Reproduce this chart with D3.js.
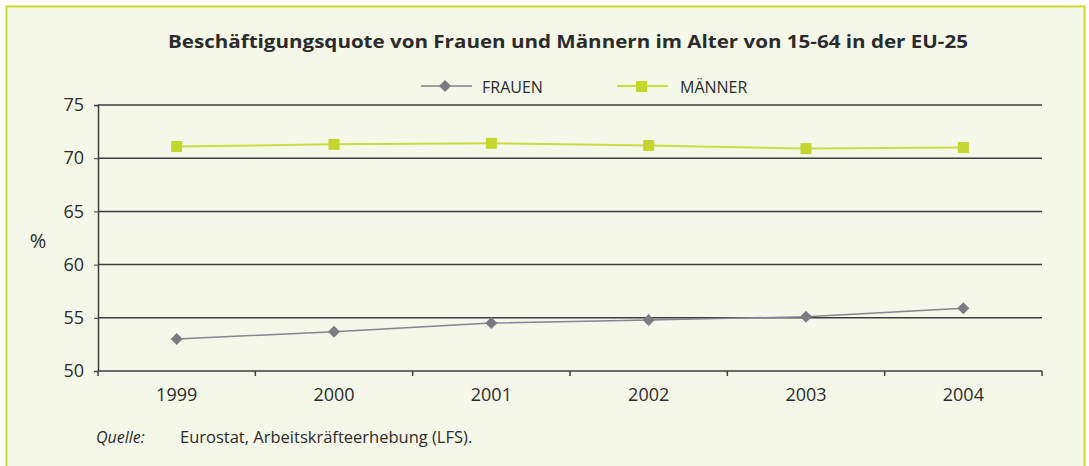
<!DOCTYPE html>
<html>
<head>
<meta charset="utf-8">
<script src="https://cdn.jsdelivr.net/npm/d3@7"></script>
<style>
    body { margin: 0; background: #fff; }
    text { font-family: "Open Sans", "DejaVu Sans", sans-serif; fill: #2b2b2b; }
</style>
</head>
<body>
<svg id="chart" width="1089" height="466"></svg>
<script>
const years = ["1999", "2000", "2001", "2002", "2003", "2004"]
const frauen = [53.0, 53.7, 54.5, 54.8, 55.1, 55.9]
const maenner = [71.1, 71.3, 71.4, 71.2, 70.9, 71.0]
const yTicks = [50, 55, 60, 65, 70, 75]

const svg = d3.select("#chart")
const margin = { top: 105, right: 47, bottom: 95, left: 98 }
const width = 1089, height = 466

// frame
svg.append("rect")
    .attr("x", 6.5).attr("y", 6.5)
    .attr("width", 1078).attr("height", 470)
    .attr("fill", "#f5f8e9")
    .attr("stroke", "#c9dc2c")
    .attr("stroke-width", 2)

svg.append("text")
    .attr("x", 568).attr("y", 48)
    .attr("text-anchor", "middle")
    .style("font-size", "17px")
    .style("font-weight", "bold")
    .attr("textLength", 800)
    .attr("lengthAdjust", "spacingAndGlyphs")
    .text("Beschäftigungsquote von Frauen und Männern im Alter von 15-64 in der EU-25")

let x = d3.scaleBand()
    .domain(years)
    .range([margin.left, width - margin.right])

let y = d3.scaleLinear()
    .domain([50, 75])
    .range([height - margin.bottom, margin.top])

// gridlines
svg.append("g")
    .selectAll("line")
    .data(yTicks)
    .enter()
    .append("line")
        .attr("x1", margin.left)
        .attr("x2", width - margin.right)
        .attr("y1", d => y(d))
        .attr("y2", d => y(d))
        .attr("stroke", "#3d3d3d")
        .attr("stroke-width", 1.5)

let yAxis = svg.append("g")
    .attr("transform", `translate(${margin.left},0)`)
    .call(d3.axisLeft(y).tickValues(yTicks).tickSize(4).tickPadding(10))
yAxis.select(".domain").attr("stroke", "#3d3d3d").attr("stroke-width", 1.5)
yAxis.selectAll(".tick line").attr("stroke", "#3d3d3d")
yAxis.selectAll("text").style("font-size", "18px").attr("fill", "#333")

let xAxis = svg.append("g")
    .attr("transform", `translate(0,${y(50)})`)
    .call(d3.axisBottom(x).tickSize(0).tickPadding(17))
xAxis.select(".domain").remove()
xAxis.selectAll("text").style("font-size", "18px").attr("fill", "#333")

// ticks on band boundaries
let bounds = years.map(d => x(d)).concat([x(years[years.length - 1]) + x.bandwidth()])
svg.append("g")
    .selectAll("line")
    .data(bounds)
    .enter()
    .append("line")
        .attr("x1", d => d).attr("x2", d => d)
        .attr("y1", y(50)).attr("y2", y(50) + 5)
        .attr("stroke", "#3d3d3d")
        .attr("stroke-width", 1.5)

svg.append("text")
    .attr("x", 38).attr("y", 248)
    .attr("text-anchor", "middle")
    .style("font-size", "20px")
    .attr("fill", "#333")
    .text("%")

const cx = d => x(d) + x.bandwidth() / 2
const line = d3.line()
    .x((d, i) => cx(years[i]))
    .y(d => y(d))

svg.append("path")
    .datum(maenner)
    .attr("d", line)
    .attr("fill", "none")
    .attr("stroke", "#c9dc45")
    .attr("stroke-width", 2)

svg.append("path")
    .datum(frauen)
    .attr("d", line)
    .attr("fill", "none")
    .attr("stroke", "#85858c")
    .attr("stroke-width", 1.5)

const diamond = d3.symbol().type(d3.symbolSquare).size(72)

svg.append("g")
    .selectAll("path")
    .data(frauen)
    .enter()
    .append("path")
        .attr("d", diamond)
        .attr("transform", (d, i) => `translate(${cx(years[i])},${y(d)}) rotate(45)`)
        .attr("fill", "#7b7b82")

svg.append("g")
    .selectAll("rect")
    .data(maenner)
    .enter()
    .append("rect")
        .attr("x", (d, i) => cx(years[i]) - 5.5)
        .attr("y", d => y(d) - 5.5)
        .attr("width", 11).attr("height", 11)
        .attr("fill", "#c3d62e")

// legend
let legend = svg.append("g")
legend.append("line")
    .attr("x1", 421).attr("x2", 472).attr("y1", 86).attr("y2", 86)
    .attr("stroke", "#85858c").attr("stroke-width", 1.5)
legend.append("path")
    .attr("d", diamond)
    .attr("transform", "translate(445,86) rotate(45)")
    .attr("fill", "#7b7b82")
legend.append("text")
    .attr("x", 482).attr("y", 93)
    .style("font-size", "16px")
    .attr("fill", "#333")
    .text("FRAUEN")
legend.append("line")
    .attr("x1", 617).attr("x2", 668).attr("y1", 86).attr("y2", 86)
    .attr("stroke", "#c9dc45").attr("stroke-width", 2)
legend.append("rect")
    .attr("x", 636).attr("y", 81).attr("width", 11).attr("height", 11)
    .attr("fill", "#c3d62e")
legend.append("text")
    .attr("x", 680).attr("y", 93)
    .style("font-size", "16px")
    .attr("fill", "#333")
    .text("MÄNNER")

// source
svg.append("text")
    .attr("x", 96).attr("y", 443)
    .style("font-size", "16px")
    .style("font-style", "italic")
    .attr("fill", "#333")
    .text("Quelle:")
svg.append("text")
    .attr("x", 180).attr("y", 443)
    .style("font-size", "16.5px")
    .attr("fill", "#333")
    .text("Eurostat, Arbeitskräfteerhebung (LFS).")
</script>
</body>
</html>
